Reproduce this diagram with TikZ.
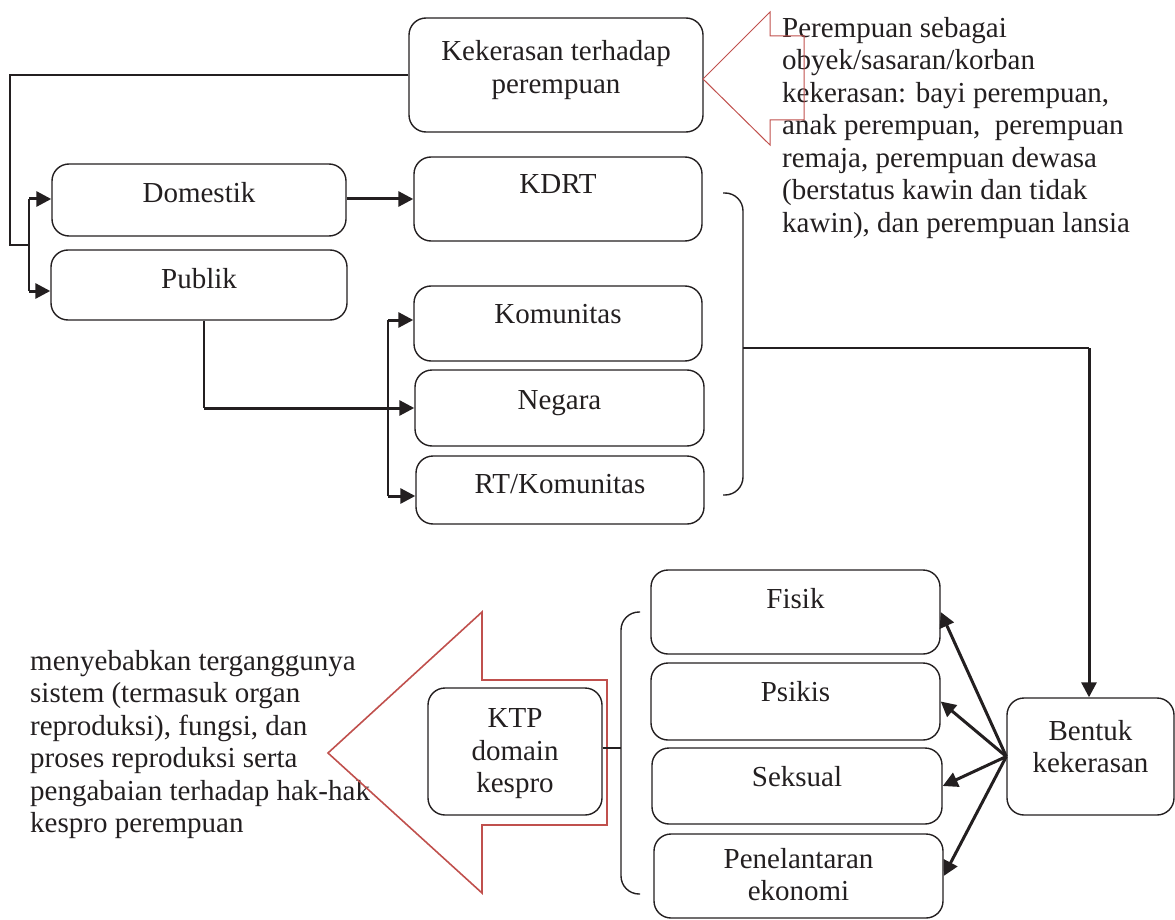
\documentclass[tikz,border=0pt]{standalone}
\usepackage{fontspec}
\setmainfont{Liberation Serif}
\usetikzlibrary{arrows.meta}
\definecolor{ink}{RGB}{35,31,32}
\definecolor{calloutred}{RGB}{192,80,77}

\begin{document}
\begin{tikzpicture}[x=1pt,y=-1pt,>={Triangle[length=15pt,width=15pt]},color=ink,font=\fontsize{29}{32.5}\selectfont]
\tikzstyle{bx}=[draw,line width=1.4pt,rounded corners=17pt,inner sep=0pt]
\tikzstyle{lbl}=[anchor=north,yshift=-18.5pt,align=center,inner sep=0pt]
\tikzstyle{ln}=[line width=1.4pt]
\tikzstyle{arr}=[->,line width=3pt]
\tikzstyle{callout}=[draw=calloutred,line join=miter]
\useasboundingbox (0,0) rectangle (1175,920);
\node[bx,minimum width=294pt,minimum height=114pt,label={[lbl,yshift=-4.5pt]north:Kekerasan terhadap\\perempuan}] (kekerasan) at (556,75) {};
\node[bx,minimum width=294pt,minimum height=72pt,label={[lbl]north:Domestik}] (domestik) at (199,200) {};
\node[bx,minimum width=296pt,minimum height=70pt,label={[lbl]north:Publik}] (publik) at (199,285) {};
\node[bx,minimum width=288pt,minimum height=84pt,label={[lbl]north:KDRT}] (kdrt) at (558,199) {};
\node[bx,minimum width=288pt,minimum height=75pt,label={[lbl]north:Komunitas}] (komunitas) at (558,323.5) {};
\node[bx,minimum width=289pt,minimum height=76pt,label={[lbl,yshift=-3pt]north:Negara}] (negara) at (559.5,408) {};
\node[bx,minimum width=288pt,minimum height=68pt,label={[lbl]north:RT/Komunitas}] (rtkom) at (560,490) {};
\node[bx,minimum width=289pt,minimum height=84pt,label={[lbl]north:Fisik}] (fisik) at (795.5,612) {};
\node[bx,minimum width=289pt,minimum height=77pt,label={[lbl]north:Psikis}] (psikis) at (795.5,701.5) {};
\node[bx,minimum width=290pt,minimum height=76pt,label={[lbl]north:Seksual}] (seksual) at (797,786) {};
\node[bx,minimum width=289pt,minimum height=84pt,label={[lbl,yshift=4pt]north:Penelantaran\\ekonomi}] (penel) at (798.5,876) {};
\node[bx,minimum width=167pt,minimum height=117pt,label={[lbl,yshift=-4pt]north:Bentuk\\kekerasan}] (bentuk) at (1090.5,756.5) {};
\node[bx,minimum width=174pt,minimum height=127pt,label={[lbl,yshift=-3pt]north:KTP\\domain\\kespro}] (ktp) at (515,751.5) {};
\node[anchor=north west,align=left,inner sep=0pt] (victims) at (782,17) {Perempuan sebagai\\obyek/sasaran/korban\\kekerasan: bayi perempuan,\\anak perempuan,~ perempuan\\remaja, perempuan dewasa\\(berstatus kawin dan tidak\\kawin), dan perempuan lansia};
\node[anchor=north west,align=left,inner sep=0pt] (impact) at (30,650) {menyebabkan terganggunya\\sistem (termasuk organ\\reproduksi), fungsi, dan\\proses reproduksi serta\\pengabaian terhadap hak-hak\\kespro perempuan};
\draw[callout,line width=1pt] (703,79) -- (770,12) -- (770,36) -- (804,36) -- (804,120) -- (770,120) -- (770,145) -- cycle;
\draw[callout,line width=1.6pt] (328,753) -- (482,612) -- (482,680) -- (607,680) -- (607,825) -- (482,825) -- (482,893) -- cycle;
\coordinate (lsplit) at (29,245);
\coordinate (dtop) at (29,199);
\coordinate (dbot) at (29,291);
\draw[ln] (kekerasan.west) -| (10,245) -- (lsplit);
\draw[ln] (dtop) -- (dbot);
\draw[arr] (dtop) -- (domestik.west|-dtop);
\draw[arr] (dbot) -- (publik.west|-dbot);
\draw[arr] ([yshift=1pt]domestik.east) -- (kdrt.west);
\coordinate (pcorner) at (204,408);
\draw[ln] (pcorner|-publik.south) -- (pcorner);
\draw[arr] (pcorner) -- (negara.west);
\coordinate (ktop) at (388,320);
\coordinate (kbot) at (388,496);
\draw[ln] (ktop) -- (kbot);
\draw[arr] (ktop) -- (komunitas.west|-ktop);
\draw[arr] (kbot) -- (rtkom.west|-kbot);
\draw[ln,rounded corners=18pt] (723,193) -- (743,193) -- (743,495) -- (723,495);
\coordinate (kbr) at (743,348);
\coordinate (kturn) at (1089,348);
\draw[ln] (kbr) -- (kturn);
\draw[arr] (kturn) -- (kturn|-bentuk.north);
\draw[ln,rounded corners=18pt] (640,612) -- (621,612) -- (621,894) -- (640,894);
\coordinate (fbr) at (621,748);
\draw[ln] (ktp.east|-fbr) -- (fbr);
\foreach \t in {fisik,psikis,seksual,penel}
  \draw[arr] (bentuk.west) -- (\t.east);
\end{tikzpicture}
\end{document}
